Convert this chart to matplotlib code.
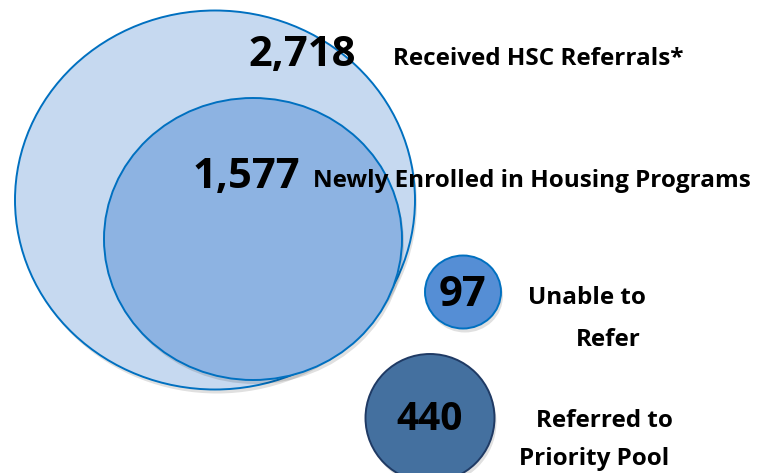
import matplotlib
matplotlib.use("Agg")
import matplotlib.pyplot as plt
from matplotlib.patches import Ellipse

# data
counts = [2718, 1577, 97, 440]
labels = [
    "Received HSC Referrals*",
    "Newly Enrolled in Housing Programs",
    "Unable to\nRefer",
    "Referred to\nPriority Pool",
]

# layout (pixel space, y down)
centers = [(215, 200), (253, 239), (463, 292), (430, 418)]
sizes = [(400, 379), (298, 282), (76, 73), (129, 128)]
fills = ["#c6d9f0", "#8db3e2", "#558ed5", "#44709f"]
edges = ["#0070c0", "#0070c0", "#0070c0", "#1f3a64"]
num_pos = [(302, 55), (246, 177), (463, 295), (430, 419)]
num_size = [30, 30, 30, 28]
# one (x, y) per label line
lab_pos = [[(393, 59)], [(313, 181)], [(528, 298), (576, 340)],
           [(536, 421), (519, 459)]]
lab_size = [17.5, 17.5, 17.5, 17.5]

FONT = ["Open Sans", "DejaVu Sans"]

fig = plt.figure(figsize=(7.59, 4.73), dpi=100)
ax = fig.add_axes([0, 0, 1, 1])
ax.set_xlim(0, 759)
ax.set_ylim(473, 0)
ax.set_aspect("equal")
ax.set_axis_off()

for (cx, cy), (w, h), fc, ec in zip(centers, sizes, fills, edges):
    # soft drop shadow
    ax.add_patch(Ellipse((cx + 2, cy + 4), w, h, facecolor="#000000",
                         alpha=0.12, edgecolor="none"))
    ax.add_patch(Ellipse((cx, cy), w, h, facecolor=fc, edgecolor=ec,
                         linewidth=1.4))

for n, (x, y), fs in zip(counts, num_pos, num_size):
    ax.text(x, y, f"{n:,}", fontsize=fs, fontweight="bold", family=FONT,
            ha="center", va="center", color="black")

for lab, pos, fs in zip(labels, lab_pos, lab_size):
    for line, (x, y) in zip(lab.split("\n"), pos):
        ax.text(x, y, line, fontsize=fs, fontweight="bold", family=FONT,
                ha="left", va="center", color="black")

fig.savefig("out.png", dpi=100)
plt.close(fig)
